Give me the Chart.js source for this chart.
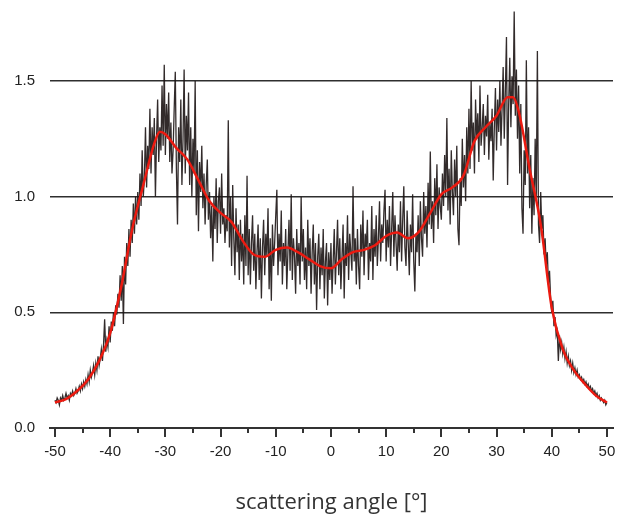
<!DOCTYPE html>
<html>
<head>
<meta charset="utf-8">
<script src="https://cdn.jsdelivr.net/npm/chart.js@4.4.1/dist/chart.umd.min.js"></script>
<style>
  html, body { margin: 0; padding: 0; background: #ffffff; }
  #wrap { width: 618px; height: 523px; position: relative; }
</style>
</head>
<body>
<div id="wrap"><canvas id="c" width="618" height="523"></canvas></div>
<script>
// ---- data ----
const axisTitle = "scattering angle [°]";
const xTickValues = [-50, -45, -40, -35, -30, -25, -20, -15, -10, -5, 0, 5, 10, 15, 20, 25, 30, 35, 40, 45, 50];
const xLabelValues = [-50, -40, -30, -20, -10, 0, 10, 20, 30, 40, 50];
const yTickValues = [0, 0.5, 1.0, 1.5];

// measured (noisy) intensity, sampled every 0.2 degrees from -50 to 50
const measuredStart = -50;
const measuredStep = 0.2;
const measuredValues = [
  // -50.0 .. -45.2
  0.12,0.11,0.13,0.12,0.10,0.13,0.12,0.14,0.12,0.13,0.15,0.13,0.14,0.12,0.15,0.14,0.16,0.14,0.15,0.17,0.15,0.16,0.18,0.16,0.19,
  // -45.0 .. -40.2
  0.17,0.20,0.18,0.21,0.19,0.23,0.20,0.25,0.22,0.24,0.27,0.23,0.28,0.25,0.31,0.27,0.30,0.34,0.29,0.36,0.47,0.33,0.38,0.35,0.44,
  // -40.0 .. -35.2
  0.37,0.46,0.42,0.50,0.44,0.53,0.49,0.58,0.52,0.66,0.55,0.70,0.45,0.74,0.62,0.80,0.70,0.86,0.74,0.90,0.80,0.97,0.84,1.00,0.88,
  // -35.0 .. -30.2
  1.02,0.90,1.10,0.96,1.20,1.00,1.08,1.30,1.04,1.22,1.12,1.38,1.10,1.30,1.18,1.34,1.00,1.25,1.42,1.15,1.30,1.20,1.48,1.22,1.57,
  // -30.0 .. -25.2
  1.18,1.40,1.25,1.45,1.15,1.32,1.10,1.20,1.38,1.54,1.12,0.88,1.30,1.15,1.42,1.05,1.25,1.55,1.10,1.35,1.20,1.45,1.05,1.30,1.00,
  // -25.0 .. -20.2
  1.25,1.10,1.50,0.92,1.20,0.85,1.15,1.02,1.22,0.95,1.10,0.88,1.05,1.16,0.90,1.02,0.82,0.96,0.72,1.00,0.86,1.08,0.80,0.98,1.04,
  // -20.0 .. -15.2
  0.84,1.10,0.88,0.95,0.80,0.92,0.85,1.33,0.78,1.00,0.70,1.05,0.82,0.66,0.95,0.76,0.88,0.64,0.90,0.72,0.84,0.62,0.92,0.70,1.09,
  // -15.0 .. -10.2
  0.66,0.86,0.62,0.80,0.92,0.68,0.84,0.60,0.76,0.88,0.64,0.82,0.56,0.78,0.90,0.66,0.84,0.74,0.95,0.60,0.82,0.55,0.88,0.70,0.80,
  // -10.0 .. -5.2
  0.92,1.03,0.66,0.84,0.72,0.94,0.62,0.80,0.70,0.86,0.60,0.76,0.90,0.68,1.01,0.64,0.82,0.74,0.58,0.86,0.70,0.80,0.62,1.00,0.72,
  // -5.0 .. -0.2
  0.86,0.64,0.78,0.60,0.90,0.70,0.82,0.58,0.76,0.88,0.62,0.80,0.51,0.74,0.84,0.60,0.78,0.66,0.86,0.56,0.72,0.80,0.53,0.76,0.64,
  // 0.0 .. 4.8
  0.80,0.58,0.72,0.86,0.62,0.76,0.90,0.66,0.82,0.60,0.74,0.88,0.56,0.80,0.70,0.92,0.64,0.84,0.76,0.68,1.045,0.72,0.82,0.62,0.86,
  // 5.0 .. 9.8
  0.70,0.60,0.88,0.74,0.94,0.66,0.84,0.78,0.90,0.64,0.80,0.72,0.96,0.64,0.86,0.74,0.92,0.70,0.82,0.98,0.72,0.88,0.80,0.94,1.03,
  // 10.0 .. 14.8
  0.72,0.90,0.78,0.96,0.70,0.86,1.02,0.74,0.92,0.80,0.68,0.88,0.76,0.98,0.72,0.90,1.045,0.78,0.70,0.94,0.80,0.66,0.88,0.76,1.01,
  // 15.0 .. 19.8
  0.72,0.59,0.84,0.76,0.92,0.70,0.98,0.82,0.74,1.02,0.84,0.96,0.78,1.06,0.88,1.195,0.86,0.98,0.80,1.08,0.92,1.14,0.86,1.04,0.96,
  // 20.0 .. 24.8
  0.90,1.10,0.96,1.18,1.00,1.34,0.94,1.12,0.88,1.20,1.02,0.92,1.16,1.00,1.22,0.86,0.79,1.08,0.96,1.25,1.04,1.18,0.98,1.30,1.10,
  // 25.0 .. 29.8
  1.38,1.12,1.50,1.20,1.32,1.10,1.42,1.25,1.36,1.15,1.48,1.22,1.30,1.40,1.18,1.35,1.26,1.44,1.16,1.32,1.24,1.38,1.07,1.30,1.47,
  // 30.0 .. 34.8
  1.20,1.42,1.28,1.50,1.22,1.38,1.56,1.25,1.46,1.69,1.05,1.40,1.60,1.30,1.52,1.40,1.80,1.35,1.55,1.25,1.48,1.10,1.40,0.95,0.84,
  // 35.0 .. 39.8
  1.20,1.05,1.59,1.10,1.30,0.95,1.18,0.84,1.08,0.92,1.25,1.00,1.63,0.88,0.80,1.02,0.86,0.92,0.75,0.82,0.70,0.76,0.62,0.68,0.56,
  // 40.0 .. 44.8
  0.50,0.55,0.44,0.48,0.40,0.42,0.29,0.40,0.34,0.37,0.32,0.35,0.30,0.33,0.28,0.31,0.27,0.29,0.25,0.28,0.24,0.26,0.23,0.25,0.22,
  // 45.0 .. 50.0
  0.23,0.21,0.22,0.20,0.21,0.19,0.20,0.18,0.19,0.17,0.18,0.16,0.17,0.15,0.16,0.14,0.15,0.13,0.14,0.12,0.13,0.12,0.11,0.12,0.10,0.11
];

// smoothed fit (red curve)
const smoothAngles = [-50,-48,-46,-44,-42,-40,-38,-36,-34,-32,-31,-30,-28,-26,-24,-22,-20,-18,-16,-14,-12,-10,-8,-6,-4,-2,0,2,4,6,8,10,12,14,16,18,20,22,24,26,28,30,32,33,34,36,38,40,42,44,46,48,50];
const smoothValues = [0.11,0.125,0.16,0.21,0.29,0.41,0.61,0.86,1.05,1.23,1.28,1.27,1.21,1.16,1.07,0.98,0.93,0.89,0.81,0.75,0.74,0.77,0.78,0.76,0.73,0.70,0.69,0.73,0.76,0.77,0.79,0.83,0.845,0.82,0.85,0.93,1.01,1.04,1.09,1.24,1.30,1.35,1.43,1.43,1.37,1.12,0.88,0.52,0.34,0.25,0.19,0.14,0.11];

// ---- build datasets ----
const measuredPoints = measuredValues.map((v, i) => ({ x: measuredStart + measuredStep * i, y: v }));
const smoothPoints = smoothAngles.map((a, i) => ({ x: a, y: smoothValues[i] }));

const tickMarks = {
  id: 'tickMarks',
  afterDraw(chart) {
    const xs = chart.scales.x;
    const ctx = chart.ctx;
    const b = chart.chartArea.bottom;
    ctx.save();
    ctx.strokeStyle = '#333333';
    ctx.lineWidth = 2;
    xTickValues.forEach(v => {
      const px = Math.round(xs.getPixelForValue(v));
      const len = (v % 10 === 0) ? 9 : 5;
      ctx.beginPath();
      ctx.moveTo(px, b);
      ctx.lineTo(px, b + len);
      ctx.stroke();
    });
    ctx.restore();
  }
};

new Chart(document.getElementById('c'), {
  type: 'line',
  data: {
    datasets: [
      {
        data: measuredPoints,
        borderColor: 'rgba(28,20,20,0.9)',
        borderWidth: 1.3,
        pointRadius: 0,
        tension: 0,
        fill: false,
        order: 2
      },
      {
        data: smoothPoints,
        borderColor: '#ec1a10',
        borderWidth: 2.5,
        pointRadius: 0,
        cubicInterpolationMode: 'monotone',
        fill: false,
        order: 1
      }
    ]
  },
  plugins: [tickMarks],
  options: {
    responsive: false,
    animation: false,
    layout: { padding: { left: 0, right: 5, top: 0, bottom: 0 } },
    plugins: { legend: { display: false }, tooltip: { enabled: false } },
    scales: {
      x: {
        type: 'linear',
        min: -50.9,
        max: 51.1,
        afterBuildTicks: s => { s.ticks = xLabelValues.map(v => ({ value: v })); },
        afterFit: s => { s.height = 95; s.paddingLeft = 0; s.paddingRight = 0; },
        grid: { display: true, drawOnChartArea: false, drawTicks: true, tickLength: 9, tickColor: 'rgba(0,0,0,0)' },
        border: { display: true, color: '#333333', width: 2 },
        ticks: {
          autoSkip: false,
          maxRotation: 0,
          padding: 6,
          color: '#222222',
          font: { family: '"Liberation Sans", Arial, sans-serif', size: 15 },
          callback: v => String(v)
        },
        title: {
          display: true,
          text: axisTitle,
          color: '#333333',
          font: { family: '"Open Sans", "Noto Sans", sans-serif', size: 22 },
          padding: { top: 0, bottom: 7 }
        }
      },
      y: {
        type: 'linear',
        min: 0,
        max: 1.85,
        afterBuildTicks: s => { s.ticks = yTickValues.map(v => ({ value: v })); },
        afterFit: s => { s.width = 50; s.paddingTop = 0; s.paddingBottom = 0; },
        grid: { display: true, drawTicks: false, color: '#2e2e2e', lineWidth: 1.5 },
        border: { display: false },
        ticks: {
          padding: 15,
          color: '#222222',
          font: { family: '"Liberation Sans", Arial, sans-serif', size: 15 },
          callback: v => Number(v).toFixed(1)
        }
      }
    }
  }
});
</script>
</body>
</html>
